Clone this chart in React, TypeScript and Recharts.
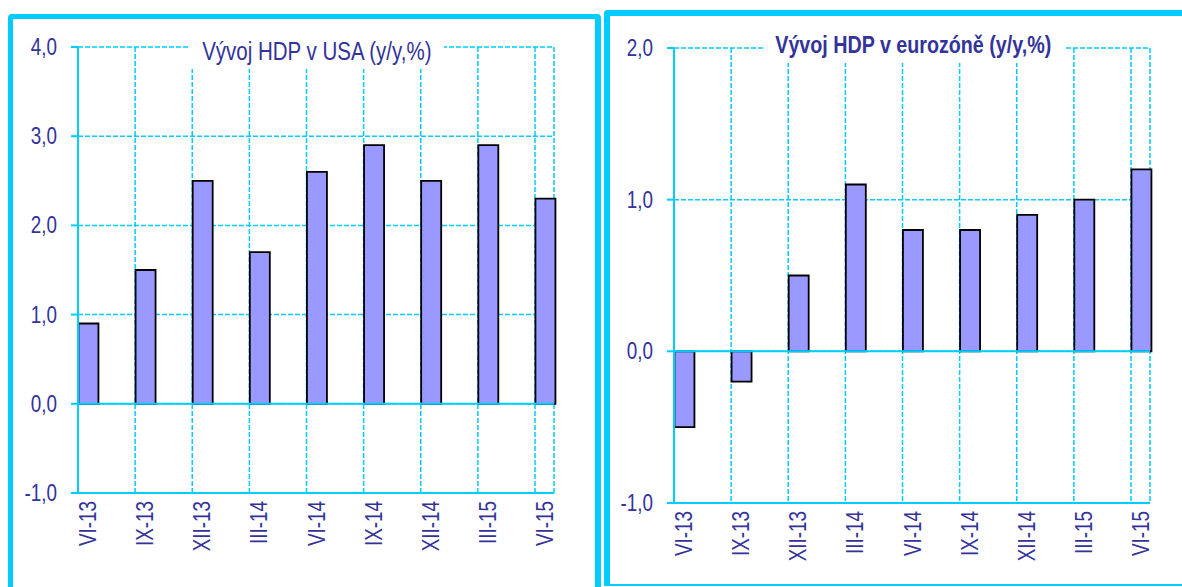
import React from 'react';
import { BarChart, Bar, XAxis, YAxis, CartesianGrid, ReferenceLine } from 'recharts';

const quarters = ['VI-13', 'IX-13', 'XII-13', 'III-14', 'VI-14', 'IX-14', 'XII-14', 'III-15', 'VI-15'];
const usaGdp = [0.9, 1.5, 2.5, 1.7, 2.6, 2.9, 2.5, 2.9, 2.3];
const euroGdp = [-0.5, -0.2, 0.5, 1.1, 0.8, 0.8, 0.9, 1.0, 1.2];
const usaTicks = [-1, 0, 1, 2, 3, 4];
const euroTicks = [-1, 0, 1, 2];

const CYAN = '#00CCFF';
const INK = '#333399';
// no Arial Narrow here, so squeeze Liberation Sans horizontally
const FONT = "'Liberation Sans', Arial, sans-serif";
const SQUEEZE = 0.82;

const fmt = (v: number) => v.toFixed(1).replace('.', ',');

const QuarterTick = (props: any) => {
  const { x, y, payload } = props;
  return (
    <text
      x={0}
      y={0}
      dy="0.35em"
      textAnchor="end"
      transform={`translate(${x + 10}, ${y + 8}) rotate(-90) scale(${SQUEEZE}, 1)`}
      fill={INK}
      fontSize={23}
      fontFamily={FONT}
    >
      {payload.value}
    </text>
  );
};

const ValueTick = (props: any) => {
  const { x, y, payload } = props;
  return (
    <text
      x={0}
      y={0}
      dy="0.35em"
      textAnchor="end"
      transform={`translate(${x}, ${y}) scale(${SQUEEZE}, 1)`}
      fill={INK}
      fontSize={23}
      fontFamily={FONT}
    >
      {fmt(payload.value)}
    </text>
  );
};

interface ChartProps {
  values: number[];
  ticks: number[];
  width: number;
  height: number;
  top: number;
  yWidth: number;
  right: number;
  xHeight: number;
}

const GdpChart: React.FC<ChartProps> = ({ values, ticks, width, height, top, yWidth, right, xHeight }) => {
  const data = quarters.map((q, i) => ({ q, v: values[i] }));
  const domain = [ticks[0], ticks[ticks.length - 1]];
  return (
    <BarChart
      width={width}
      height={height}
      data={data}
      margin={{ top, right, bottom: 0, left: 0 }}
      barGap={0}
    >
      <CartesianGrid stroke={CYAN} strokeWidth={1.5} strokeDasharray="5 2" />
      <XAxis
        dataKey="q"
        scale="point"
        padding={{ left: 0, right: 19 }}
        height={xHeight}
        axisLine={{ stroke: CYAN, strokeWidth: 2 }}
        tickLine={false}
        tickSize={0}
        tickMargin={0}
        interval={0}
        tick={<QuarterTick />}
      />
      <XAxis
        xAxisId="top"
        orientation="top"
        height={0}
        tick={false}
        tickLine={false}
        axisLine={{ stroke: CYAN, strokeWidth: 2 }}
      />
      <YAxis
        domain={domain}
        ticks={ticks}
        interval={0}
        width={yWidth}
        axisLine={{ stroke: CYAN, strokeWidth: 2 }}
        tickLine={{ stroke: CYAN, strokeWidth: 2 }}
        tickSize={7}
        tickMargin={14}
        tick={<ValueTick />}
      />
      <YAxis
        yAxisId="right"
        orientation="right"
        domain={domain}
        width={0}
        tick={false}
        tickLine={false}
        axisLine={{ stroke: CYAN, strokeWidth: 2 }}
      />
      {/* empty spacer series so the real bar sits right of each gridline */}
      <Bar dataKey="spacer" barSize={20} fill="none" isAnimationActive={false} />
      <Bar dataKey="v" barSize={20} fill="#9999FF" stroke="#000000" strokeWidth={1.8} isAnimationActive={false} />
      <ReferenceLine y={0} stroke={CYAN} strokeWidth={2} />
    </BarChart>
  );
};

const titleStyle: React.CSSProperties = {
  position: 'absolute',
  display: 'flex',
  justifyContent: 'center',
  alignItems: 'center',
  background: '#ffffff',
  color: INK,
  fontFamily: FONT,
  fontSize: 25,
  height: 36,
  lineHeight: '36px',
  whiteSpace: 'nowrap',
};

const squeezed: React.CSSProperties = { display: 'inline-block', flexShrink: 0, transform: `scaleX(${SQUEEZE})` };

export default function App() {
  return (
    <div style={{ position: 'relative', width: 1182, height: 587, overflow: 'hidden', background: '#fff' }}>
      <style>{'body{margin:0}'}</style>
      <div
        style={{
          position: 'absolute', left: 8, top: 14, width: 593, height: 620, boxSizing: 'border-box',
          border: `5px solid ${CYAN}`, borderRightWidth: 6, borderRadius: 4,
        }}
      />
      <div
        style={{
          position: 'absolute', left: 604, top: 10, width: 700, height: 576, boxSizing: 'border-box',
          borderTop: `6px solid ${CYAN}`, borderLeft: `6px solid ${CYAN}`, borderBottom: `2px solid ${CYAN}`,
          borderTopLeftRadius: 4,
        }}
      />
      <div style={{ position: 'absolute', left: 0, top: 0 }}>
        <GdpChart values={usaGdp} ticks={usaTicks} width={600} height={587} top={47} yWidth={78} right={46} xHeight={94} />
      </div>
      <div style={{ position: 'absolute', left: 595, top: 0 }}>
        <GdpChart values={euroGdp} ticks={euroTicks} width={587} height={587} top={48} yWidth={79} right={32} xHeight={84} />
      </div>
      <div style={{ ...titleStyle, left: 189, top: 33, width: 255 }}>
        <span style={squeezed}>Vývoj HDP v USA (y/y,%)</span>
      </div>
      <div style={{ ...titleStyle, left: 763, top: 27, width: 301, fontSize: 24, fontWeight: 'bold' }}>
        <span style={squeezed}>Vývoj HDP v eurozóně (y/y,%)</span>
      </div>
    </div>
  );
}
